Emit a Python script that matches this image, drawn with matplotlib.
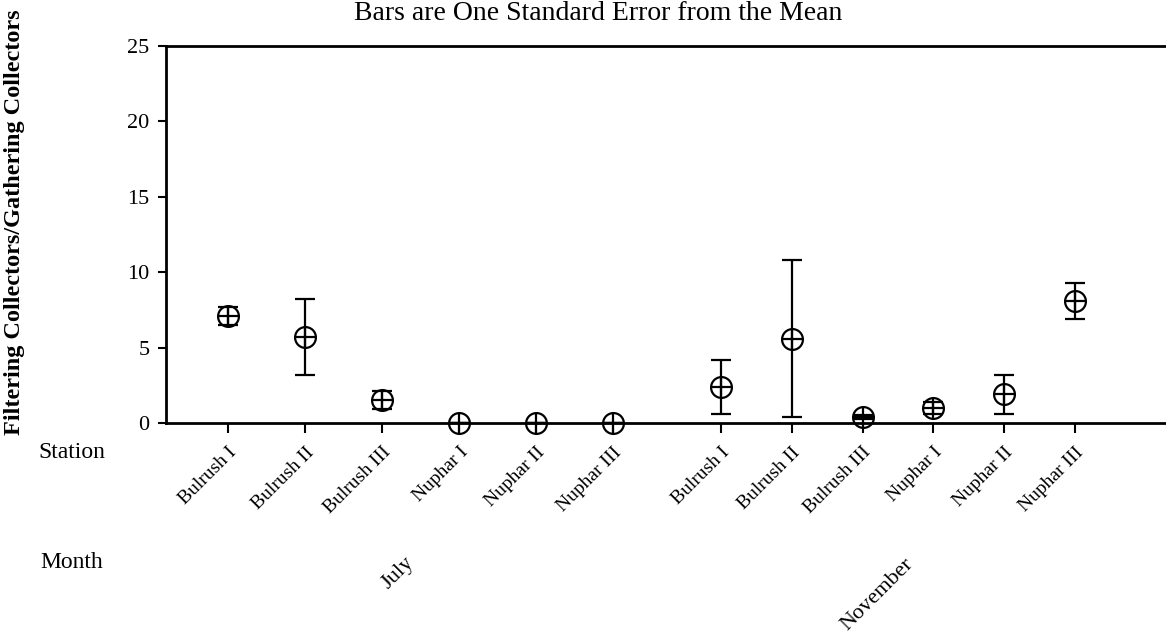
import numpy as np
import matplotlib
matplotlib.use("Agg")
import matplotlib.pyplot as plt

plt.rcParams['font.family'] = ['Liberation Serif', 'DejaVu Serif']

# stations and months
stations = ["Bulrush I", "Bulrush II", "Bulrush III", "Nuphar I", "Nuphar II", "Nuphar III"]
months = ["July", "November"]

# ratio means and standard errors
july_mean = [7.1, 5.7, 1.5, 0.0, 0.0, 0.0]
july_se = [0.6, 2.5, 0.6, 0.0, 0.0, 0.0]
nov_mean = [2.4, 5.6, 0.4, 1.0, 1.9, 8.1]
nov_se = [1.8, 5.2, 0.15, 0.4, 1.3, 1.2]

# x layout (july group then november group, slightly tighter)
x_july = np.arange(6)
x_nov = 6.4 + 0.92 * np.arange(6)

fig = plt.figure(figsize=(11.66, 6.41), dpi=100)
ax = fig.add_axes([166/1166, 1 - 423/641, 1 - 166/1166, (423 - 46)/641])

xs = np.concatenate([x_july, x_nov])
means = july_mean + nov_mean
ses = july_se + nov_se

ax.errorbar(xs, means, yerr=ses, fmt='none', ecolor='black', elinewidth=1.6,
            capsize=7, capthick=1.6, clip_on=False)
ax.plot(xs, means, 'o', ms=15, mfc='none', mec='black', mew=1.6, clip_on=False, zorder=3)
ax.plot(xs, means, '+', ms=15, mec='black', mew=1.6, clip_on=False, zorder=3)

ax.set_xlim(-0.805, 12.18)
ax.set_ylim(0, 25)
ax.set_yticks([0, 5, 10, 15, 20, 25])
ax.tick_params(axis='y', labelsize=16, length=6, width=1.5, direction='out', pad=6)
ax.set_xticks(xs)
ax.set_xticklabels(stations + stations, rotation=45, ha='right', rotation_mode='anchor', fontsize=14)
ax.tick_params(axis='x', length=7, width=1.5, direction='out', pad=8)

for s in ['left', 'bottom', 'top']:
    ax.spines[s].set_linewidth(2)
ax.spines['right'].set_visible(False)

fig.text(598/1166, 1 - 20/641, "Bars are One Standard Error from the Mean", ha='center',
         va='baseline', fontsize=20)
fig.text(15/1166, 1 - 222/641, "Filtering Collectors/Gathering Collectors", rotation=90,
         ha='center', va='center', fontsize=17.5, fontweight='bold')
fig.text(38/1166, 1 - 452/641, "Station", ha='left', va='center', fontsize=17)
fig.text(40/1166, 1 - 562/641, "Month", ha='left', va='center', fontsize=17)

# month labels under each group
fig.text(398/1166, 1 - 573/641, months[0], rotation=45, ha='center', va='center', fontsize=16)
fig.text(877/1166, 1 - 595/641, months[1], rotation=45, ha='center', va='center', fontsize=16)

fig.savefig("out.png", dpi=100)
